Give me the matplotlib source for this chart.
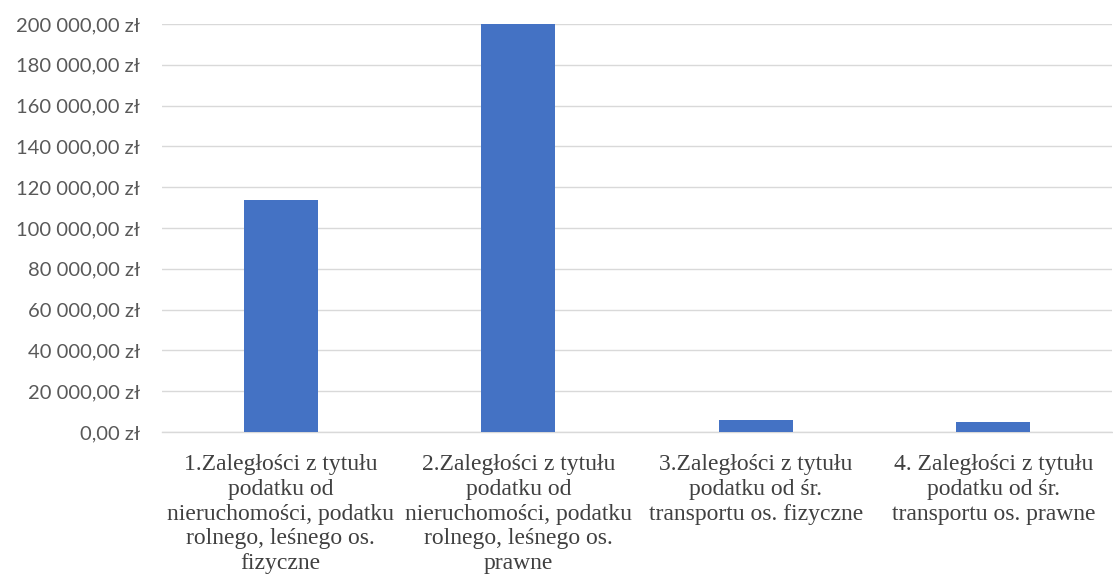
import matplotlib.pyplot as plt
from matplotlib.ticker import FuncFormatter

categories = [
    "1.Zaległości z tytułu\npodatku od\nnieruchomości, podatku\nrolnego, leśnego os.\nfizyczne",
    "2.Zaległości z tytułu\npodatku od\nnieruchomości, podatku\nrolnego, leśnego os.\nprawne",
    "3.Zaległości z tytułu\npodatku od śr.\ntransportu os. fizyczne",
    "4. Zaległości z tytułu\npodatku od śr.\ntransportu os. prawne",
]
values = [113700, 200000, 5700, 4900]
y_ticks = list(range(0, 200001, 20000))


def pln(v, _pos=None):
    s = f"{v:,.2f}".replace(",", " ").replace(".", ",")
    return f"{s} zł"


fig = plt.figure(figsize=(11.13, 5.83), dpi=100)
ax = fig.add_axes([162 / 1113, 1 - 432 / 583, 950 / 1113, 408 / 583])

x = range(len(categories))
ax.bar(x, values, width=0.31, color="#4472C4", zorder=3)

ax.set_xlim(-0.5, len(categories) - 0.5)
ax.set_ylim(0, 200000)
ax.set_yticks(y_ticks)
ax.yaxis.set_major_formatter(FuncFormatter(pln))
ax.grid(axis="y", color="#d9d9d9", linewidth=1.0, zorder=0)
ax.set_axisbelow(True)

for side in ("top", "right", "left"):
    ax.spines[side].set_visible(False)
ax.spines["bottom"].set_color("#d9d9d9")
ax.spines["bottom"].set_linewidth(1.0)

ax.tick_params(axis="y", length=0, pad=16, labelsize=14.5, labelcolor="#595959")
for lbl in ax.get_yticklabels():
    lbl.set_family("Lato")

ax.set_xticks(list(x))
ax.set_xticklabels(categories, family="Liberation Serif", fontsize=17,
                   color="#404040", linespacing=1.23)
ax.tick_params(axis="x", length=0, pad=16)

fig.savefig("out.png", dpi=100)
